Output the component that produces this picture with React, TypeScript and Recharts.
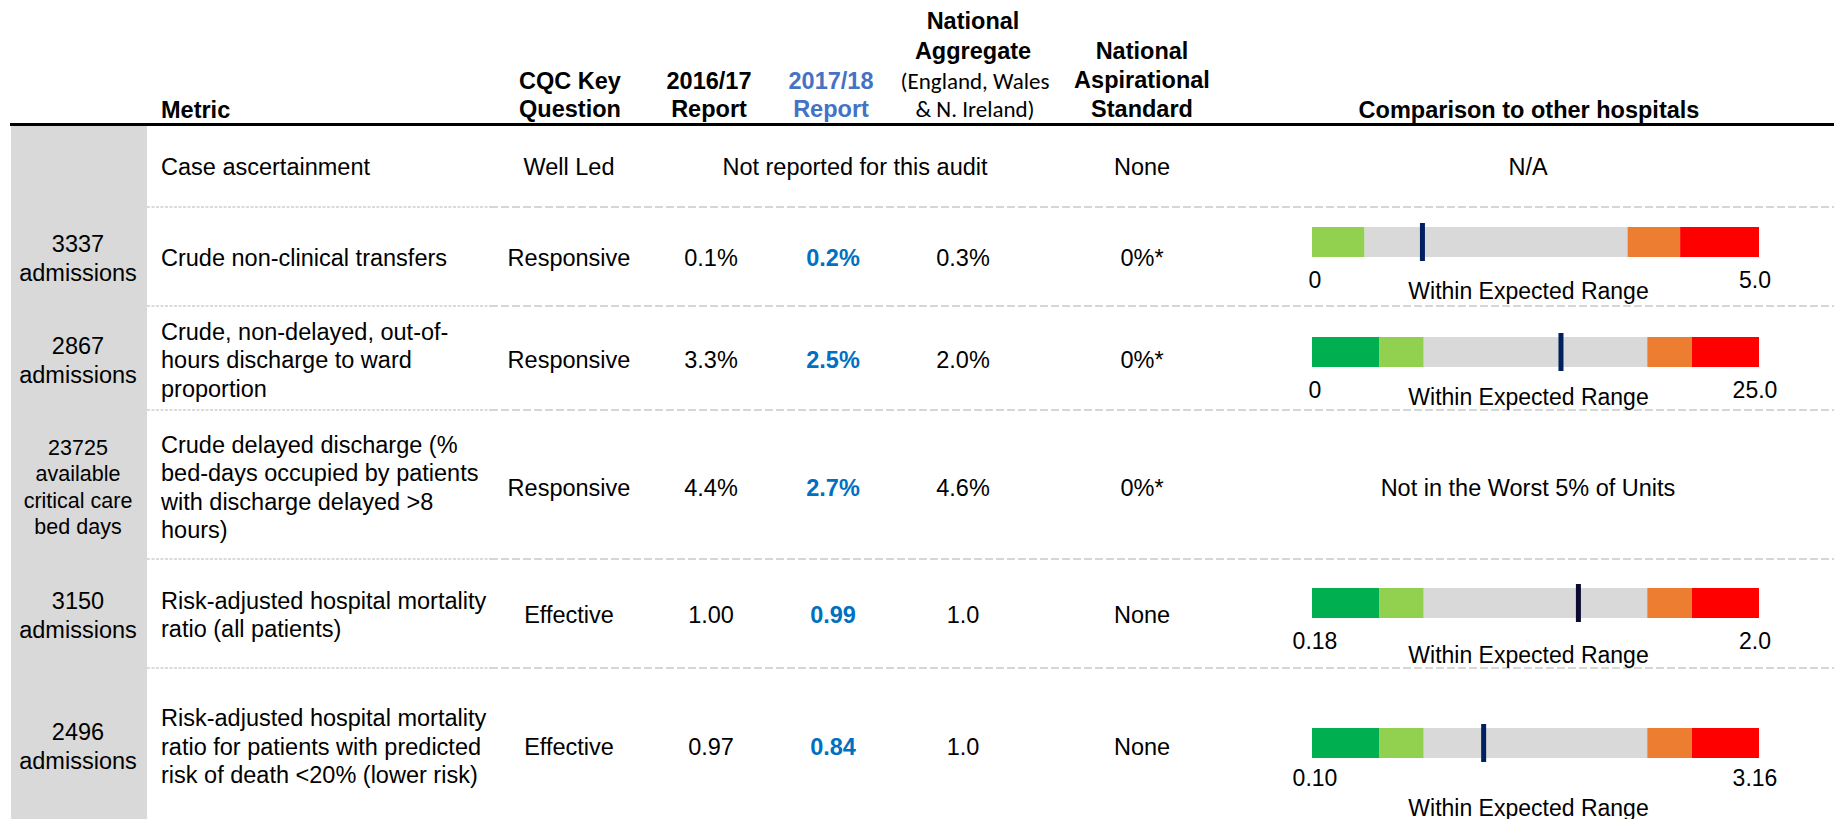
import React from "react"
import { BarChart, Bar, XAxis, YAxis, ReferenceLine, Label } from "recharts"

// table content, one entry per metric row
const denominators = [
  [],
  ["3337", "admissions"],
  ["2867", "admissions"],
  ["23725", "available", "critical care", "bed days"],
  ["3150", "admissions"],
  ["2496", "admissions"],
]
const metricLines = [
  ["Case ascertainment"],
  ["Crude non-clinical transfers"],
  ["Crude, non-delayed, out-of-", "hours discharge to ward", "proportion"],
  ["Crude delayed discharge (%", "bed-days occupied by patients", "with discharge delayed >8", "hours)"],
  ["Risk-adjusted hospital mortality", "ratio (all patients)"],
  ["Risk-adjusted hospital mortality", "ratio for patients with predicted", "risk of death <20% (lower risk)"],
]
const cqcQuestion = ["Well Led", "Responsive", "Responsive", "Responsive", "Effective", "Effective"]
const report2016 = [null, "0.1%", "3.3%", "4.4%", "1.00", "0.97"]
const report2017 = [null, "0.2%", "2.5%", "2.7%", "0.99", "0.84"]
const nationalAggregate = [null, "0.3%", "2.0%", "4.6%", "1.0", "1.0"]
const aspirationalStandard = ["None", "0%*", "0%*", "0%*", "None", "None"]
const comparisonText = ["N/A", null, null, "Not in the Worst 5% of Units", null, null]

// bullet bars (rows 1, 2, 4, 5): band widths in display units, marker position, range labels
const bulletRows = [1, 2, 4, 5]
const bandNames = ["muchBetter", "better", "expected", "worse", "muchWorse"]
const bandWidths = [
  [0, 10, 50, 10, 15],
  [15, 10, 50, 10, 15],
  [15, 10, 50, 10, 15],
  [15, 10, 50, 10, 15],
]
const unitMarkers = [21.0, 55.7, 59.6, 38.4]
const rangeMin = ["0", "0", "0.18", "0.10"]
const rangeMax = ["5.0", "25.0", "2.0", "3.16"]
const rangeVerdict = ["Within Expected Range", "Within Expected Range", "Within Expected Range", "Within Expected Range"]

// layout
const bandColors = ["#00B050", "#92D050", "#D9D9D9", "#ED7D31", "#FF0000"]
const markerColors = ["#002060", "#002060", "#0A0A32", "#002060"]
const rowCenter = [166, 257, 359, 486.5, 614, 745.5]
const separators = [207, 306, 410, 559, 668]
const plotTop = [223, 333, 584, 724]
const tickDy = [19, 19, 19, 16]
const verdictDy = [29.5, 25.5, 33, 45.5]
const BAR_LEFT = 1312
const BAR_W = 447
const PAD = 40
const PLOT_H = 38
const AXIS_H = 60
const TEXT_NUDGE = 2 // css line box centre sits a little above the glyph centre

const ARIAL = "'Liberation Sans', Arial, Helvetica, sans-serif"

function Txt({ x, y, anchor = "middle", style = {}, children }: any) {
  const tx = anchor === "middle" ? "-50%" : anchor === "end" ? "-100%" : "0"
  return (
    <div style={{ position: "absolute", left: x, top: y + TEXT_NUDGE, transform: `translate(${tx},-50%)`, whiteSpace: "nowrap", lineHeight: 1, ...style }}>
      {children}
    </div>
  )
}

function Bullet({ i }: { i: number }) {
  const widths = bandWidths[i]
  const total = widths.reduce((a, b) => a + b, 0)
  const row: any = { name: "unit" }
  widths.forEach((w, k) => (row[bandNames[k]] = w))
  return (
    <div style={{ position: "absolute", left: BAR_LEFT - PAD, top: plotTop[i] }}>
      <BarChart width={BAR_W + 2 * PAD} height={PLOT_H + AXIS_H} data={[row]} layout="vertical"
        margin={{ top: 0, right: PAD, bottom: 0, left: PAD }} barSize={30}>
        <XAxis type="number" domain={[0, total]} ticks={[0, total]} interval={0} axisLine={false} tickLine={false}
          tickSize={0} tickMargin={0} height={AXIS_H}
          tick={(p: any) => (
            <text key={p.index} x={p.x + (p.payload.value === 0 ? 3 : -4)} y={p.y + tickDy[i]} textAnchor="middle"
              dominantBaseline="central" fontFamily={ARIAL} fontSize={23} fill="#000">
              {p.payload.value === 0 ? rangeMin[i] : rangeMax[i]}
            </text>
          )}>
          <Label content={(lp: any) => {
            const vb = lp.viewBox || { x: PAD, y: PLOT_H, width: BAR_W }
            return (
              <text x={vb.x + vb.width / 2 - 7} y={vb.y + verdictDy[i]} textAnchor="middle" dominantBaseline="central"
                fontFamily={ARIAL} fontSize={23} fill="#000">
                {rangeVerdict[i]}
              </text>
            )
          }} />
        </XAxis>
        <YAxis type="category" dataKey="name" hide />
        {bandNames.map((n, k) => (
          <Bar key={n} dataKey={n} stackId="band" fill={bandColors[k]} isAnimationActive={false} />
        ))}
        <ReferenceLine x={unitMarkers[i]} stroke={markerColors[i]} strokeWidth={5} />
      </BarChart>
    </div>
  )
}

export default function App() {
  const bold = { fontWeight: 700, fontSize: 23.5 }
  const body = { fontSize: 23.5 }
  const blueVal = { fontWeight: 700, fontSize: 23.5, color: "#0070C0" }
  const calibri = { fontFamily: "Carlito, Calibri, Lato, sans-serif", fontSize: 23 }
  return (
    <div style={{ position: "absolute", left: 0, top: 0, width: 1838, height: 819, background: "#fff", fontFamily: ARIAL, color: "#000", overflow: "hidden" }}>
      <svg width={1838} height={819} style={{ position: "absolute", left: 0, top: 0 }}>
        <rect x={11} y={126} width={136} height={700} fill="#D9D9D9" />
        <line x1={10} x2={1834} y1={124.5} y2={124.5} stroke="#000" strokeWidth={3} />
        {separators.map((y) => (
          <g key={y}>
            <line x1={147} x2={490} y1={y} y2={y} stroke="#CFCFCF" strokeWidth={1.5} strokeDasharray="3 1.5" />
            <line x1={490} x2={1834} y1={y} y2={y} stroke="#D6D6D6" strokeWidth={2} strokeDasharray="8 3" />
          </g>
        ))}
      </svg>

      {/* header */}
      <Txt x={161} y={109} anchor="start" style={bold}>Metric</Txt>
      <Txt x={570} y={80} style={bold}>CQC Key</Txt>
      <Txt x={570} y={108} style={bold}>Question</Txt>
      <Txt x={709} y={80} style={bold}>2016/17</Txt>
      <Txt x={709} y={108} style={bold}>Report</Txt>
      <Txt x={831} y={80} style={{ ...bold, color: "#4472C4" }}>2017/18</Txt>
      <Txt x={831} y={108} style={{ ...bold, color: "#4472C4" }}>Report</Txt>
      <Txt x={973} y={20} style={bold}>National</Txt>
      <Txt x={973} y={50} style={bold}>Aggregate</Txt>
      <Txt x={975} y={79} style={calibri}>(England, Wales</Txt>
      <Txt x={975} y={107} style={calibri}>&amp; N. Ireland)</Txt>
      <Txt x={1142} y={50} style={bold}>National</Txt>
      <Txt x={1142} y={79} style={bold}>Aspirational</Txt>
      <Txt x={1142} y={108} style={bold}>Standard</Txt>
      <Txt x={1529} y={109} style={bold}>Comparison to other hospitals</Txt>

      {/* rows */}
      {metricLines.map((lines, r) => {
        const cy = rowCenter[r]
        const den = denominators[r]
        const denGap = den.length > 2 ? 26.4 : 29
        const denSize = den.length > 2 ? 21.5 : 23.5
        return (
          <React.Fragment key={r}>
            {den.map((t, k) => (
              <Txt key={"d" + k} x={78} y={cy + (k - (den.length - 1) / 2) * denGap} style={{ fontSize: denSize }}>{t}</Txt>
            ))}
            {lines.map((t, k) => (
              <Txt key={"m" + k} x={161} y={cy + (k - (lines.length - 1) / 2) * 28.5} anchor="start" style={body}>{t}</Txt>
            ))}
            <Txt x={569} y={cy} style={body}>{cqcQuestion[r]}</Txt>
            {report2016[r] == null ? (
              <Txt x={855} y={cy} style={body}>Not reported for this audit</Txt>
            ) : (
              <>
                <Txt x={711} y={cy} style={body}>{report2016[r]}</Txt>
                <Txt x={833} y={cy} style={blueVal}>{report2017[r]}</Txt>
                <Txt x={963} y={cy} style={body}>{nationalAggregate[r]}</Txt>
              </>
            )}
            <Txt x={1142} y={cy} style={body}>{aspirationalStandard[r]}</Txt>
            {comparisonText[r] && <Txt x={1528} y={cy} style={body}>{comparisonText[r]}</Txt>}
          </React.Fragment>
        )
      })}

      {bulletRows.map((r, i) => <Bullet key={r} i={i} />)}
    </div>
  )
}
